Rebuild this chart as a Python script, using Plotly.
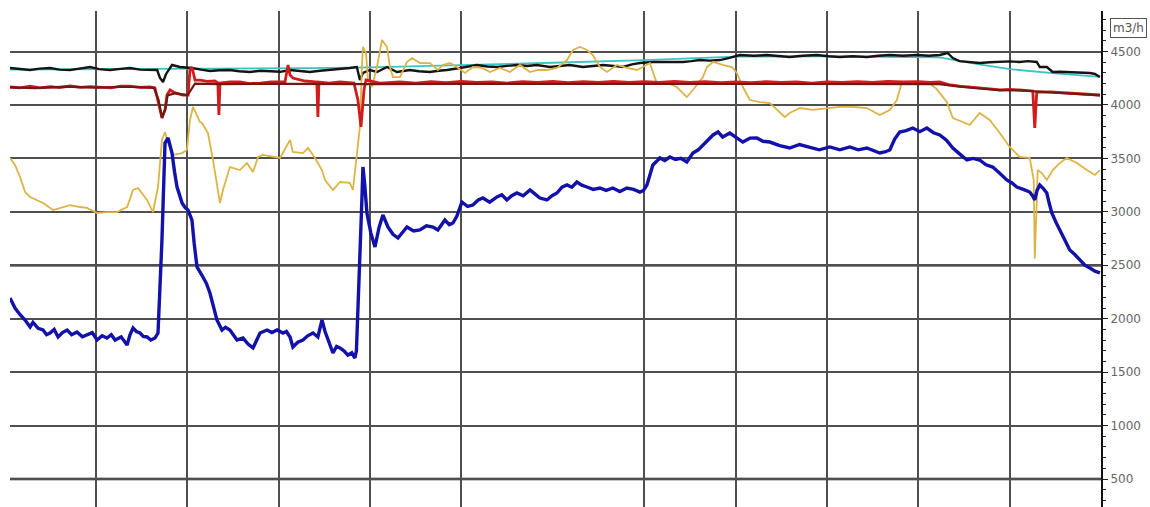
import plotly.graph_objects as go

# Time axis in minutes; grid every 60 min (the 360 min line is not drawn)
grid_minutes = [60, 120, 180, 240, 300, 420, 480, 540, 600, 660]
y_ticks = [500, 1000, 1500, 2000, 2500, 3000, 3500, 4000, 4500]
unit_label = "m3/h"

# Blue flow (m3/h)
blue_t = [
    3.5, 6.8, 10, 13.4, 16.7, 18.6, 22, 25.2, 27.5, 29.8,
    32.5, 35.1, 38, 41, 44, 47.5, 51, 54.1, 57.5, 60.7,
    64, 67.2, 70, 72.5, 76.5, 80.4, 82.3, 84.3, 86.5, 88.9,
    91, 93.5, 96, 98.7, 100.7, 102, 103.3, 105.3, 107.3, 108.6,
    109.9, 111.5, 113.2, 116.5, 118.5, 120.4, 123, 124.5, 126.3, 130.2,
    132.5, 134.8, 137, 139.4, 142.7, 145, 147.9, 150, 152.6, 156.5,
    160, 163.1, 165.5, 167.7, 170, 172.3, 175.5, 178.9, 182.8, 185,
    187.4, 189.3, 192.5, 195.9, 199, 202.5, 205.7, 208.4, 210.4, 212.3,
    215.6, 218, 220.2, 222.8, 225.4, 228, 230, 231, 232, 233.3,
    234.6, 235.3, 236.5, 237.9, 240.5, 243.2, 245.8, 248.4, 251.7, 255,
    258.3, 261, 264.2, 268.5, 272.7, 277, 281.3, 284.5, 289.1, 292,
    294.4, 297, 300.3, 304, 307.5, 311, 314.1, 318.5, 323.3, 326.5,
    329.8, 333, 336.4, 340.5, 345, 348, 351.5, 356.1, 359.5, 362.7,
    366, 369.3, 372.5, 375.8, 379, 382.4, 386.5, 390.9, 395, 399.4,
    404, 408.6, 413, 417.2, 419.5, 421.8, 423.8, 425.7, 428, 430.3,
    433.5, 436.9, 440.5, 444, 448, 452, 455.5, 458.6, 461.8, 465.2,
    468.5, 471.5, 476.2, 480.5, 484.8, 489.5, 494, 498, 502.5, 509,
    515.6, 522, 528.8, 535, 541.9, 548.5, 555, 560.5, 566.2, 570.5,
    574.7, 578, 581.3, 584.5, 587.8, 592, 596.4, 601, 605.6, 610,
    614.1, 618.5, 622.7, 627.3, 631.9, 636, 640.3, 644.5, 648.9, 653.5,
    658.1, 661.5, 664.7, 669, 673.2, 675, 676.5, 678, 679.8, 682,
    684.4, 686, 687.7, 690.5, 693, 696.2, 699.5, 702.8, 706.1, 709.4,
    712.7, 716, 719.3,
]
blue_v = [
    2194, 2100, 2040, 1988, 1922, 1965, 1910, 1894, 1850, 1866,
    1900, 1829, 1870, 1894, 1850, 1876, 1830, 1847, 1870, 1801,
    1840, 1819, 1850, 1801, 1830, 1754, 1850, 1913, 1880, 1866,
    1835, 1829, 1800, 1819, 1866, 2300, 2736, 3644, 3691, 3620,
    3550, 3380, 3232, 3082, 3040, 3017, 2923, 2700, 2484, 2390,
    2330, 2240, 2120, 1988, 1894, 1920, 1894, 1850, 1801, 1819,
    1760, 1726, 1800, 1866, 1880, 1894, 1870, 1894, 1866, 1880,
    1829, 1735, 1780, 1801, 1840, 1866, 1829, 1988, 1880, 1801,
    1679, 1740, 1726, 1700, 1660, 1680, 1632, 1700, 2016, 2600,
    3111, 3419, 3250, 2989, 2800, 2671, 2850, 2970, 2858, 2790,
    2755, 2800, 2858, 2820, 2830, 2870, 2858, 2830, 2923, 2880,
    2895, 2960, 3092, 3050, 3063, 3110, 3129, 3090, 3139, 3160,
    3111, 3150, 3176, 3150, 3204, 3170, 3129, 3111, 3150, 3176,
    3230, 3251, 3230, 3279, 3250, 3232, 3210, 3223, 3200, 3223,
    3190, 3223, 3210, 3185, 3200, 3251, 3350, 3438, 3470, 3504,
    3480, 3513, 3490, 3500, 3466, 3550, 3580, 3625, 3680, 3719,
    3747, 3700, 3737, 3690, 3653, 3690, 3691, 3660, 3653, 3620,
    3597, 3630, 3607, 3580, 3607, 3580, 3607, 3580, 3597, 3570,
    3550, 3560, 3578, 3680, 3747, 3760, 3784, 3750, 3784, 3740,
    3719, 3670, 3597, 3540, 3485, 3500, 3485, 3440, 3419, 3360,
    3298, 3270, 3232, 3210, 3185, 3150, 3111, 3200, 3251, 3220,
    3176, 3080, 2989, 2900, 2830, 2730, 2643, 2600, 2549, 2500,
    2474, 2445, 2428,
]

# Yellow flow (m3/h)
yellow_t = [
    3.5, 6.8, 10.1, 13.4, 16.7, 21.3, 25.2, 31.8, 36.4, 42.9,
    49.5, 54.1, 60.7, 67.2, 73.8, 80.4, 84.3, 87.6, 93.5, 97.4,
    100.7, 103.3, 105.3, 107.3, 110.6, 116.5, 119.7, 121.7, 123.7, 128.3,
    129.6, 133.5, 136.8, 141.4, 143.4, 147.9, 154.5, 159.1, 163.1, 166.4,
    169.6, 180.8, 187.4, 189.3, 195.9, 199.2, 203.8, 208.4, 210.4, 215.6,
    220.2, 226.7, 228.7, 233.3, 234.6, 235.3, 237.3, 238.6, 241.2, 244.5,
    247.8, 251.1, 253, 255, 259.6, 264.2, 267.5, 272.7, 279.3, 284.5,
    287.8, 292.4, 297, 302.3, 307.5, 313.4, 318.7, 325.2, 331.8, 338.4,
    345, 350.2, 356.1, 362.7, 369.3, 373.2, 377.8, 382.4, 386.3, 390.9,
    395.5, 402.1, 408.6, 415.2, 419.1, 423.7, 428.3, 434.9, 441.4, 448,
    452, 458.6, 461.2, 465.2, 471.6, 477.6, 480.8, 484.8, 489.4, 496,
    502.5, 509.1, 512.4, 515.6, 522.2, 530.7, 539.9, 548.4, 557, 566.2,
    574.7, 581.3, 585.9, 589.1, 594.4, 601, 607.5, 612, 618.7, 622.7,
    629.2, 633.8, 640.3, 646.9, 653.5, 660, 666.6, 673.2, 675.8, 676.5,
    677.8, 678.4, 681.1, 684.4, 688.3, 693, 697.5, 704.1, 710.7, 716,
    719.3,
]
yellow_v = [
    3504, 3438, 3326, 3185, 3139, 3111, 3082, 3017, 3036, 3063,
    3045, 3036, 2989, 2998, 2998, 3045, 3204, 3223, 3111, 2998,
    3232, 3672, 3747, 3644, 3532, 3550, 3578, 3859, 3981, 3840,
    3831, 3737, 3485, 3082, 3204, 3419, 3391, 3457, 3373, 3513,
    3532, 3504, 3672, 3560, 3550, 3597, 3504, 3391, 3298, 3204,
    3279, 3270, 3204, 3794, 4355, 4542, 4486, 4233, 4168, 4355,
    4608, 4542, 4355, 4261, 4261, 4402, 4439, 4392, 4392, 4327,
    4374, 4392, 4355, 4299, 4355, 4346, 4308, 4346, 4308, 4374,
    4308, 4327, 4327, 4346, 4420, 4514, 4542, 4514, 4467, 4355,
    4308, 4374, 4346, 4327, 4355, 4392, 4205, 4205, 4168, 4074,
    4140, 4261, 4355, 4402, 4374, 4355, 4299, 4168, 4046, 4027,
    4018, 3934, 3887, 3925, 3971, 3953, 3971, 3981, 3981, 3971,
    3906, 3953, 4046, 4205, 4215, 4215, 4200, 4150, 4027, 3878,
    3840, 3812, 3925, 3859, 3737, 3607, 3513, 3504, 3298, 2560,
    3082, 3391, 3363, 3298, 3391, 3457, 3504, 3457, 3391, 3345,
    3391,
]

# Red flow (m3/h)
red_t = [
    3.5, 10, 16.7, 23.2, 30, 36, 42.9, 50, 56, 62.6,
    70, 76, 82.3, 89, 95.4, 98.7, 100.7, 103.3, 105.3, 106.6,
    108.6, 111.9, 117.1, 120.4, 121.7, 123, 125, 128.3, 133, 138.1,
    140, 140.7, 141.4, 148, 154.5, 161, 167.7, 175, 184.1, 186.1,
    187.4, 189.3, 197.2, 205, 205.7, 206.4, 213, 220.2, 229.4, 232,
    234, 236, 237.3, 246.4, 259.6, 270, 280, 290, 300, 310,
    320, 330, 340, 350, 360, 370, 380, 390, 400, 410,
    420, 430, 440, 450, 460, 470, 480, 490, 500, 510,
    520, 530, 540, 550, 560, 570, 580, 590, 600, 608,
    614.1, 620, 627.2, 634, 640.3, 647, 653.5, 660, 666.6, 672,
    675.2, 676.5, 677.8, 686.9, 693, 699.5, 706, 712, 719.3,
]
red_v = [
    4168, 4160, 4175, 4159, 4170, 4162, 4177, 4165, 4172, 4168,
    4160, 4175, 4177, 4165, 4168, 4159, 4046, 3878, 3953, 4093,
    4140, 4112, 4093, 4093, 4327, 4355, 4233, 4233, 4220, 4224,
    4205, 3906, 4205, 4215, 4215, 4200, 4205, 4215, 4215, 4374,
    4280, 4252, 4224, 4215, 3887, 4215, 4205, 4215, 4205, 4046,
    3794, 4140, 4233, 4205, 4215, 4205, 4218, 4208, 4220, 4210,
    4215, 4205, 4218, 4210, 4220, 4208, 4218, 4212, 4220, 4210,
    4218, 4210, 4220, 4212, 4218, 4208, 4215, 4208, 4218, 4210,
    4215, 4205, 4215, 4210, 4218, 4212, 4220, 4215, 4218, 4212,
    4215, 4190, 4177, 4170, 4159, 4150, 4140, 4145, 4140, 4135,
    4131, 3784, 4121, 4121, 4115, 4112, 4105, 4100, 4093,
]

# Dark red flow (m3/h)
maroon_t = [
    3.5, 20, 40, 60, 80, 98, 101, 103.3, 105.5, 107,
    112, 120, 125, 140, 180, 230, 240, 300, 400, 500,
    600, 614, 627, 640, 653, 667, 676, 687, 700, 719.3,
]
maroon_v = [
    4165, 4158, 4172, 4162, 4170, 4160, 4050, 3880, 3960, 4090,
    4110, 4090, 4200, 4195, 4198, 4195, 4195, 4198, 4197, 4196,
    4198, 4195, 4170, 4155, 4138, 4135, 4128, 4118, 4108, 4090,
]

# Black flow (m3/h)
black_t = [
    3.5, 10, 16.7, 23, 29.8, 36, 42.9, 49, 56.1, 62,
    69.2, 76, 82.3, 89, 95.4, 100.1, 102, 104, 106, 109.9,
    115.1, 123, 129, 134.8, 141, 147.9, 154, 161.1, 168, 174.2,
    181, 187.4, 194, 200.5, 207, 213.6, 220, 226.7, 231.3, 233.3,
    235.3, 239.9, 244.5, 251.1, 257.6, 266.1, 272, 279.3, 285, 290.4,
    299, 305, 310.1, 317, 323.3, 330, 336.4, 343, 349.5, 358.1,
    365, 371.2, 379.7, 386, 392.9, 400, 406, 412, 417.2, 425.7,
    434.9, 445.4, 451, 456.5, 463, 469.7, 476, 482.8, 492, 500.5,
    508, 515.6, 524, 533.4, 541, 548.4, 557, 566.2, 574, 581.3,
    590, 599, 607, 614.1, 619.3, 622.7, 627, 631.9, 640.3, 647,
    653.5, 660, 666.6, 672, 677.8, 679.8, 684.4, 688.3, 693, 697.5,
    702, 706.1, 712.7, 716, 719.3,
]
black_v = [
    4346, 4335, 4327, 4340, 4346, 4330, 4327, 4340, 4355, 4335,
    4327, 4338, 4346, 4330, 4327, 4327, 4252, 4215, 4290, 4374,
    4355, 4346, 4330, 4318, 4325, 4327, 4315, 4308, 4320, 4318,
    4310, 4327, 4318, 4308, 4320, 4327, 4335, 4346, 4355, 4233,
    4299, 4327, 4308, 4355, 4308, 4327, 4315, 4308, 4320, 4327,
    4346, 4360, 4374, 4360, 4355, 4365, 4374, 4365, 4374, 4355,
    4365, 4374, 4355, 4365, 4374, 4365, 4355, 4380, 4392, 4402,
    4402, 4402, 4410, 4420, 4415, 4420, 4440, 4467, 4460, 4467,
    4458, 4449, 4460, 4467, 4455, 4449, 4455, 4449, 4460, 4467,
    4460, 4467, 4460, 4467, 4486, 4439, 4410, 4402, 4392, 4400,
    4402, 4408, 4402, 4410, 4402, 4355, 4355, 4308, 4310, 4308,
    4305, 4308, 4299, 4290, 4261,
]

# Cyan set-point (m3/h)
cyan_t = [3.5, 100, 200, 240, 300, 360, 420, 470, 480, 540, 600, 614, 640, 660, 690, 719.3]
cyan_v = [4330, 4335, 4345, 4352, 4372, 4395, 4420, 4445, 4452, 4455, 4452, 4445, 4380, 4335, 4295, 4262]

series = [
    ("cyan", cyan_t, cyan_v, "#3cc4c4", 1.8),
    ("black", black_t, black_v, "#141414", 2.4),
    ("yellow", yellow_t, yellow_v, "#dcb446", 1.8),
    ("red", red_t, red_v, "#d21c1c", 2.8),
    ("maroon", maroon_t, maroon_v, "#6e1a14", 2.2),
    ("blue", blue_t, blue_v, "#1212aa", 3.4),
]

fig = go.Figure()
for name, t, v, color, width in series:
    assert len(t) == len(v), name
    fig.add_trace(go.Scatter(
        x=t, y=v, mode="lines", name=name,
        line=dict(color=color, width=width),
        hoverinfo="skip",
    ))

# Heavier rules at 2500 and 500
for level in (2500, 500):
    fig.add_shape(type="line", xref="x", yref="y", x0=3.5, x1=720,
                  y0=level, y1=level, layer="below",
                  line=dict(color="#111111", width=2.6))

fig.add_annotation(
    text=unit_label, xref="paper", yref="paper",
    x=1.0082, y=0.9657, xanchor="left", yanchor="middle",
    showarrow=False, bordercolor="#555555", borderwidth=1, borderpad=2,
    font=dict(family="DejaVu Sans", size=12, color="#555555"),
)

fig.update_layout(
    width=1150, height=507,
    margin=dict(l=10, r=49, t=11, b=0, pad=0),
    paper_bgcolor="white", plot_bgcolor="white",
    showlegend=False,
    xaxis=dict(
        range=[3.5, 720], tickvals=grid_minutes, showticklabels=False,
        ticks="", showgrid=True, gridcolor="#4f4f4f", gridwidth=1.6,
        zeroline=False, showline=False, fixedrange=True,
    ),
    yaxis=dict(
        range=[238, 4879], side="right", tickvals=y_ticks,
        ticks="outside", ticklen=5, tickcolor="#222222",
        showline=True, linecolor="#111111", linewidth=2,
        showgrid=True, gridcolor="#4f4f4f", gridwidth=1.6, zeroline=False,
        tickfont=dict(family="DejaVu Sans", size=12, color="#666666"),
        minor=dict(tick0=0, dtick=100, ticks="outside", ticklen=3,
                   tickcolor="#222222", showgrid=False),
        fixedrange=True,
    ),
)

fig.write_html("out.html")
